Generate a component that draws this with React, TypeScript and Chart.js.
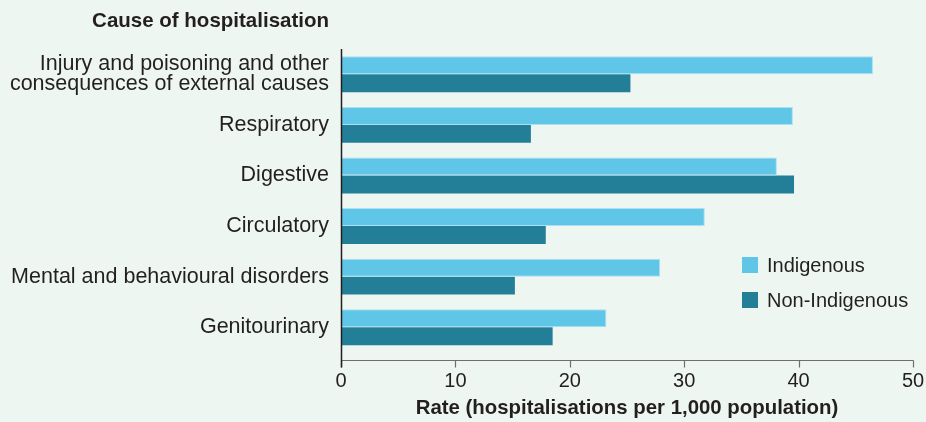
import React, { useEffect, useRef } from "react";
import { Chart, registerables } from "chart.js";

Chart.register(...registerables);

const categories: (string | string[])[] = [
  ["Injury and poisoning and other", "consequences of external causes"],
  "Respiratory",
  "Digestive",
  "Circulatory",
  "Mental and behavioural disorders",
  "Genitourinary",
];
const seriesNames = ["Indigenous", "Non-Indigenous"];
const indigenous = [46.5, 39.5, 38.1, 31.8, 27.9, 23.2];
const nonIndigenous = [25.3, 16.6, 39.6, 17.9, 15.2, 18.5];
const xTicks = [0, 10, 20, 30, 40, 50];
const yTitle = "Cause of hospitalisation";
const xTitle = "Rate (hospitalisations per 1,000 population)";

const FONT = "'Liberation Sans', Arial, Helvetica, sans-serif";
const BG = "#eef6f2";
const LIGHT = "#5fc6e7";
const DARK = "#237f98";
const TEXT = "#231f20";

const decorPlugin = {
  id: "decor",
  beforeDraw(chart: any) {
    const { ctx, width, height } = chart;
    ctx.save();
    ctx.fillStyle = BG;
    ctx.fillRect(0, 0, width, height);
    ctx.restore();
  },
  afterDraw(chart: any) {
    const { ctx, chartArea } = chart;
    const xs = chart.scales.x;
    const x0 = Math.round(xs.getPixelForValue(xTicks[0])) + 0.5;
    const axisY = Math.round(chartArea.bottom + 7) + 0.5;
    ctx.save();
    // horizontal axis line
    ctx.strokeStyle = "#6d6e71";
    ctx.lineWidth = 1.2;
    ctx.beginPath();
    ctx.moveTo(x0, axisY);
    ctx.lineTo(Math.round(xs.getPixelForValue(xTicks[xTicks.length - 1])) + 0.5, axisY);
    ctx.stroke();
    // tick marks
    xTicks.forEach((v) => {
      const px = Math.round(xs.getPixelForValue(v)) + 0.5;
      ctx.beginPath();
      ctx.moveTo(px, axisY);
      ctx.lineTo(px, axisY + 7);
      ctx.stroke();
    });
    // vertical axis line
    ctx.strokeStyle = "#231f20";
    ctx.lineWidth = 1.5;
    ctx.beginPath();
    ctx.moveTo(x0, chartArea.top);
    ctx.lineTo(x0, axisY + 7);
    ctx.stroke();

    // y title
    ctx.fillStyle = TEXT;
    ctx.font = `bold 20.5px ${FONT}`;
    ctx.textAlign = "right";
    ctx.textBaseline = "middle";
    ctx.fillText(yTitle, chartArea.left - 12, 21);

    // legend
    const ds = chart.data.datasets;
    const lx = 742;
    const rows = [265, 300];
    ctx.font = `20px ${FONT}`;
    ctx.textAlign = "left";
    ds.forEach((d: any, i: number) => {
      const cy = rows[i];
      ctx.fillStyle = d.backgroundColor;
      ctx.fillRect(lx, cy - 8, 16, 16);
      ctx.fillStyle = TEXT;
      ctx.fillText(d.label, lx + 25, cy + 1);
    });
    ctx.restore();
  },
};

export default function App() {
  const ref = useRef<HTMLCanvasElement>(null);
  useEffect(() => {
    if (!ref.current) return;
    const chart = new Chart(ref.current, {
      type: "bar",
      data: {
        labels: categories,
        datasets: [
          {
            label: seriesNames[0],
            data: indigenous,
            backgroundColor: LIGHT,
            borderColor: "#a9e0f2",
            borderWidth: 1,
            categoryPercentage: 0.71,
            barPercentage: 1.0,
          },
          {
            label: seriesNames[1],
            data: nonIndigenous,
            backgroundColor: DARK,
            borderColor: "#4a97ab",
            borderWidth: 0,
            categoryPercentage: 0.71,
            barPercentage: 1.0,
          },
        ],
      },
      options: {
        indexAxis: "y",
        animation: false,
        responsive: false,
        devicePixelRatio: 1,
        layout: { padding: { top: 49, left: 0, right: 13, bottom: 1 } },
        plugins: {
          legend: { display: false },
          title: { display: false },
          tooltip: { enabled: false },
        },
        scales: {
          x: {
            type: "linear",
            min: 0,
            max: 50,
            afterBuildTicks: (s: any) => {
              s.ticks = xTicks.map((v) => ({ value: v }));
            },
            grid: { display: false, drawTicks: true, tickLength: 17 },
            border: { display: false },
            ticks: {
              padding: 0,
              color: TEXT,
              font: { family: FONT, size: 20, lineHeight: 1.2 },
            },
            title: {
              display: true,
              text: xTitle,
              color: TEXT,
              font: { family: FONT, size: 20.4, weight: "bold", lineHeight: 1.2 },
              padding: { top: 3, bottom: 0 },
            },
          },
          y: {
            type: "category",
            grid: { display: false, drawTicks: false },
            border: { display: false },
            afterFit: (s: any) => {
              s.width = 341;
            },
            ticks: {
              padding: 12,
              color: TEXT,
              font: { family: FONT, size: 21.5, lineHeight: 0.93 },
              autoSkip: false,
            },
          },
        },
      },
      plugins: [decorPlugin],
    } as any);
    return () => chart.destroy();
  }, []);
  return (
    <div
      style={{
        position: "fixed",
        left: 0,
        top: 0,
        width: 926,
        height: 422,
        background: BG,
      }}
    >
      <canvas ref={ref} width={926} height={422} />
    </div>
  );
}
